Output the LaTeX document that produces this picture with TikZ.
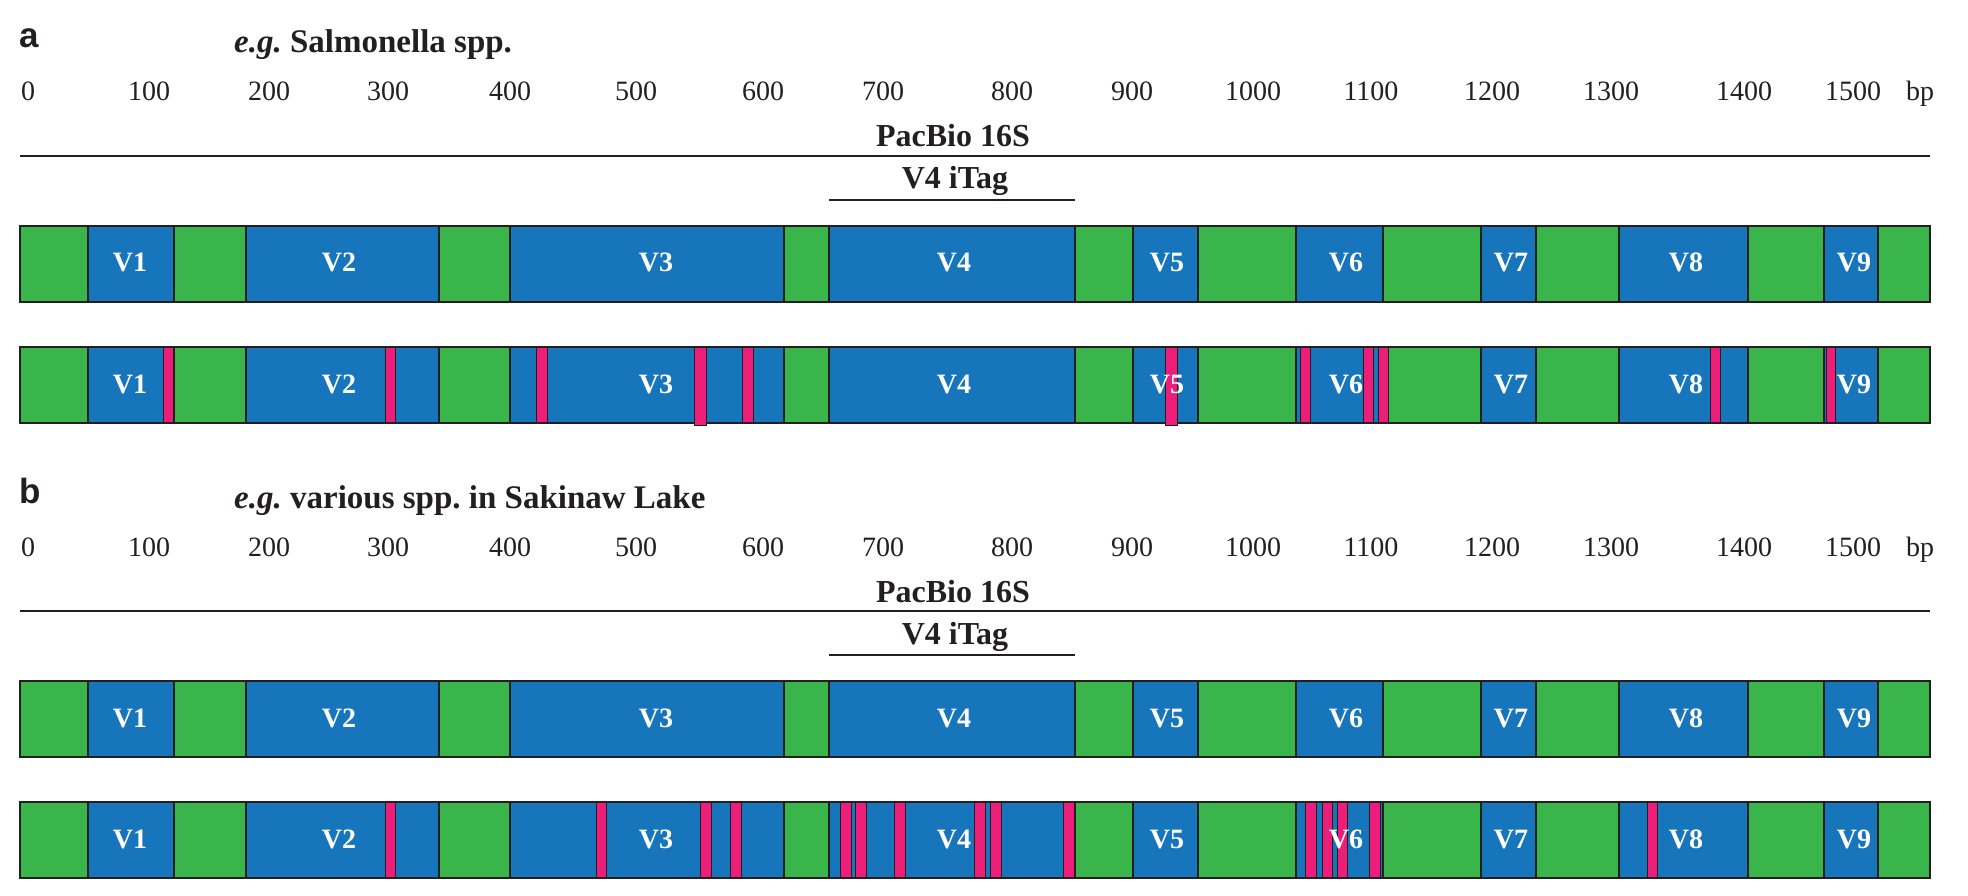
\documentclass[tikz,border=0pt]{standalone}
\usepackage{fontspec}
\setmainfont{Liberation Serif}
\newfontfamily\panelfont{Liberation Sans}
\frenchspacing
\definecolor{seggreen}{RGB}{58,181,75}
\definecolor{segblue}{RGB}{23,117,187}
\definecolor{segpink}{RGB}{236,30,121}
\definecolor{edgecol}{RGB}{35,31,32}
\tikzset{
  seg/.style={draw=edgecol, line width=1.6pt},
  barframe/.style={draw=edgecol, line width=2.2pt},
  pinkm/.style={fill=segpink, draw=edgecol, line width=1pt},
  vlab/.style={text=white, font=\fontsize{28pt}{30pt}\selectfont\bfseries, anchor=base, inner sep=0pt},
  num/.style={text=edgecol, font=\fontsize{28pt}{30pt}\selectfont, anchor=base, inner sep=0pt},
  hdr/.style={text=edgecol, font=\fontsize{32pt}{34pt}\selectfont\bfseries, anchor=base, inner sep=0pt},
  ttl/.style={text=edgecol, font=\fontsize{33pt}{35pt}\selectfont\bfseries, anchor=base west, inner sep=0pt},
  panlab/.style={text=edgecol, font=\fontsize{35pt}{37pt}\selectfont\panelfont\bfseries, anchor=base west, inner sep=0pt},
  rule/.style={draw=edgecol, line width=2.4pt}
}
\newcommand\drawbar[1]{%
  \foreach \xa/\xb/\cc in {20/88/seggreen,88/174/segblue,174/246/seggreen,246/439/segblue,439/510/seggreen,510/784/segblue,784/829/seggreen,829/1075/segblue,1075/1133/seggreen,1133/1198/segblue,1198/1296/seggreen,1296/1383/segblue,1383/1481/seggreen,1481/1536/segblue,1536/1619/seggreen,1619/1748/segblue,1748/1824/seggreen,1824/1878/segblue,1878/1930/seggreen}
    \draw[seg, fill=\cc] (\xa,#1) rectangle (\xb,#1+76);
  \draw[barframe] (20,#1) rectangle (1930,#1+76);
}
\newcommand\barlabels[2]{%
  \foreach \t/\x in {V1/130,V2/339,V3/656,V4/954,V5/1167,V6/1346,V7/1511,V8/1686,V9/1854}
    \node[vlab] (#1\t) at (\x,#2) {\t};
}
\newcommand\panelhead[3]{%
  \node[panlab] (#1let) at (19,48) {#2};
  \node[ttl] (#1title) at (234,53) {#3};
  \foreach \n/\x in {0/28,100/149,200/269,300/388,400/510,500/636,600/763,700/883,800/1012,900/1132,1000/1253,1100/1371,1200/1492,1300/1611,1400/1744,1500/1853}
    \node[num] (#1n\n) at (\x,101) {\n};
  \node[num] (#1bp) at (1920,101) {bp};
  \node[hdr] (#1pac) at (953,147) {PacBio 16S};
  \coordinate (#1pacL) at (20,156);
  \coordinate (#1pacR) at (1930,156);
  \draw[rule] (#1pacL) -- (#1pacR);
  \node[hdr] (#1itag) at (955,189) {V4 iTag};
  \coordinate (#1itagL) at (829,200);
  \coordinate (#1itagR) at (1075,200);
  \draw[rule] (#1itagL) -- (#1itagR);
  \drawbar{226}
  \barlabels{#1r1}{272}
  \drawbar{347}
}
\begin{document}
\begin{tikzpicture}[x=1pt,y=-1pt]
\useasboundingbox (0,0) rectangle (1968,896);
% panel a
\panelhead{a}{a}{\textit{e.g.} Salmonella spp.}
\foreach \xa/\xb in {163/173,385/395.5,536/547,742/753,1300/1310,1363.5/1373,1378/1388,1710/1720.5,1826/1835.6}
  \draw[pinkm] (\xa,347) rectangle (\xb,422);
\foreach \xa/\xb in {694/706,1165.6/1177}
  \draw[pinkm] (\xa,347) rectangle (\xb,425);
\barlabels{ar2}{393}
% panel b
\begin{scope}[shift={(0,455)}]
\panelhead{b}{b}{\textit{e.g.} various spp. in Sakinaw Lake}
\foreach \xa/\xb in {385/395.5,596/606,700/711,730/741.5,840/851,855/866.5,894.6/905,974/985,990/1001,1063/1074,1305.5/1316,1322/1332.5,1337.5/1347,1369.5/1380,1647/1657}
  \draw[pinkm] (\xa,347) rectangle (\xb,422);
\barlabels{br2}{393}
\end{scope}
\end{tikzpicture}
\end{document}
